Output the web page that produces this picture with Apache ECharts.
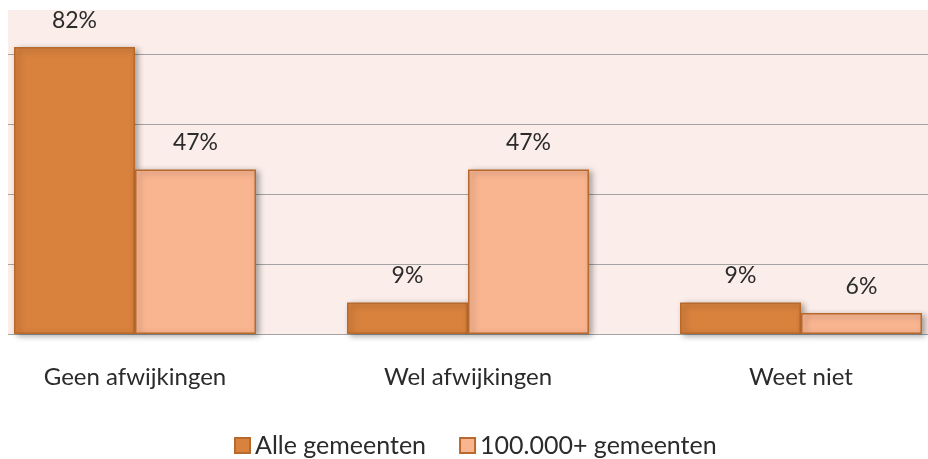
<!DOCTYPE html>
<html>
<head>
<meta charset="utf-8">
<script src="https://cdn.jsdelivr.net/npm/echarts@6/dist/echarts.min.js"></script>
<style>
  html, body { margin: 0; padding: 0; background: #fff; }
  #chart { width: 928px; height: 459px; }
</style>
</head>
<body>
<div id="chart"></div>
<script>
const categories = ['Geen afwijkingen', 'Wel afwijkingen', 'Weet niet']
const alleGemeenten = [82, 9, 9]
const grooteGemeenten = [47, 47, 6]
const seriesNames = ['Alle gemeenten', '100.000+ gemeenten']

const font = 'Lato, "Open Sans", sans-serif'
const textColor = '#2b2b2b'

const chart = echarts.init(document.getElementById('chart'), null, { renderer: 'canvas' })

function barSeries(name, data, fill) {
  return {
    name,
    type: 'bar',
    data,
    barWidth: 121,
    barGap: '0%',
    itemStyle: {
      color: fill,
      borderColor: '#b8692c',
      borderWidth: 1.5,
      shadowColor: 'rgba(0,0,0,0.35)',
      shadowBlur: 6,
      shadowOffsetX: 3,
      shadowOffsetY: 2,
    },
    label: {
      show: true,
      position: 'top',
      distance: 15,
      formatter: '{c}%',
      fontFamily: font,
      fontSize: 23,
      color: textColor,
    },
  }
}

chart.setOption({
  backgroundColor: '#fff',
  animation: false,
  grid: {
    left: -31.5,
    right: -39.5,
    top: 10,
    bottom: 125,
    outerBoundsMode: 'none',
    show: true,
    backgroundColor: '#fbeeea',
    borderWidth: 0,
  },
  legend: {
    top: 428,
    left: 229,
    icon: 'rect',
    itemWidth: 15,
    itemHeight: 15,
    itemGap: 33,
    textStyle: { fontFamily: font, fontSize: 25, color: textColor, padding: [0, 0, 0, 0] },
    data: seriesNames,
  },
  xAxis: {
    type: 'category',
    data: categories,
    axisLine: { show: false },
    axisTick: { show: false },
    axisLabel: { fontFamily: font, fontSize: 24, color: textColor, margin: 31 },
  },
  yAxis: {
    type: 'value',
    min: 0,
    max: 92.57,
    interval: 20,
    axisLabel: { show: false },
    axisLine: { show: false },
    axisTick: { show: false },
    splitLine: { showMaxLine: false, lineStyle: { color: '#a3a3a3', width: 1.2 } },
  },
  graphic: [
    { type: 'rect', left: 0, top: 0, shape: { width: 8, height: 340 }, style: { fill: '#fff' }, z: 100 },
  ],
  series: [
    barSeries(seriesNames[0], alleGemeenten, '#d9823e'),
    barSeries(seriesNames[1], grooteGemeenten, '#f9b590'),
  ],
})
</script>
</body>
</html>
